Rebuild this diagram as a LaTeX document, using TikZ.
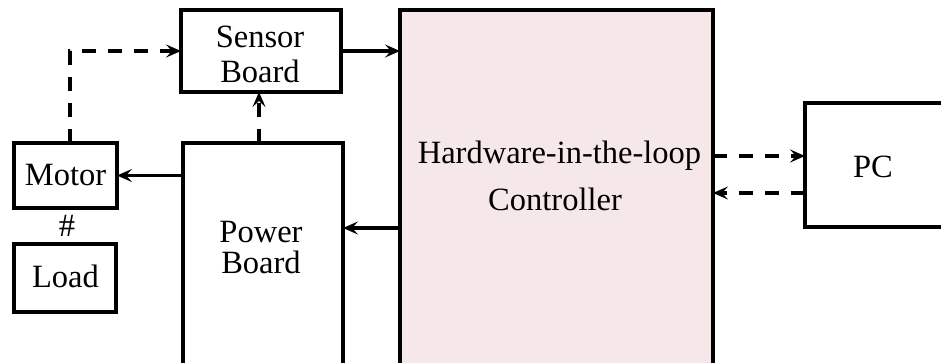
\documentclass[tikz,border=0pt]{standalone}
\usepackage{fontspec}
\setmainfont{Liberation Serif}
\usetikzlibrary{arrows.meta}
\definecolor{hilfill}{RGB}{246,232,232}
\begin{document}
\begin{tikzpicture}[x=1pt,y=-1pt,
  box/.style={draw=black, line width=4pt, inner sep=0pt, outer sep=0pt},
  lbl/.style={anchor=base, inner sep=0pt, font=\fontsize{32.5}{39}\selectfont},
  arr/.style={line width=3.4pt, -{Stealth[length=15pt,width=13pt,inset=6pt]}},
  darr/.style={arr, dash pattern=on 14pt off 12pt}]
\useasboundingbox (0,0) rectangle (941,362);
\clip (0,0) rectangle (941,362);
% boxes
\node[box, fill=hilfill, minimum width=313pt, minimum height=362pt] (hil) at (556.5,191) {};
\node[box, fill=white, minimum width=160pt, minimum height=82pt] (sensor) at (261,51) {};
\node[box, fill=white, minimum width=160pt, minimum height=229pt] (power) at (263,257.5) {};
\node[box, fill=white, minimum width=103pt, minimum height=65pt] (motor) at (65.5,175.5) {};
\node[box, fill=white, minimum width=102pt, minimum height=68pt] (load) at (65,278) {};
\node[box, fill=white, minimum width=155pt, minimum height=124pt] (pc) at (882.5,165) {};
% labels
\node[lbl] (sensor-t1) at (260,47) {Sensor};
\node[lbl] (sensor-t2) at (260,82) {Board};
\node[lbl] (power-t1) at (261,242) {Power};
\node[lbl] (power-t2) at (261,273) {Board};
\node[lbl] (motor-t) at (65.5,185) {Motor};
\node[lbl] (load-t) at (65.5,287) {Load};
\node[lbl] (hash) at (67,236) {\#};
\node[lbl] (hil-t1) at (559.5,163) {Hardware-in-the-loop};
\node[lbl] (hil-t2) at (555,210) {Controller};
\node[lbl] (pc-t) at (873,177) {PC};
% helper coordinates
\coordinate (pb) at ([yshift=29.5pt]power.east);
\coordinate (pc1) at ([yshift=9pt]pc.west);
\coordinate (pc2) at ([yshift=-28pt]pc.west);
% connectors
\draw[arr] (sensor.east) -- (sensor.east -| hil.west);
\draw[darr] ([xshift=4.5pt]motor.north) |- (sensor.west);
\draw[darr] ([xshift=-4pt]power.north) -- ([xshift=-4pt]power.north |- sensor.south);
\draw[arr] (motor.east -| power.west) -- (motor.east);
\draw[arr] (pb -| hil.west) -- (pb);
\draw[darr] (pc1 -| hil.east) -- (pc1);
\draw[darr] (pc2) -- (pc2 -| hil.east);
\end{tikzpicture}
\end{document}
